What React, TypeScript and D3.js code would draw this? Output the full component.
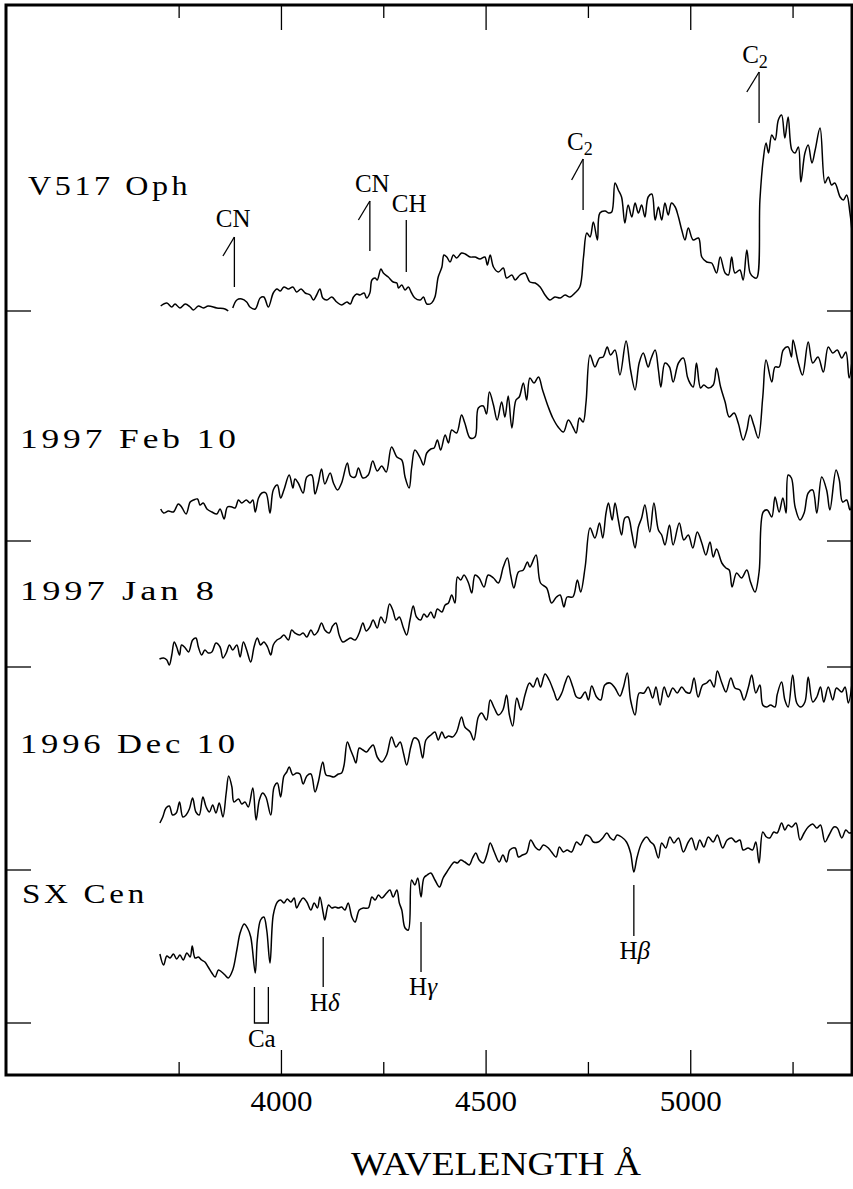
import React from "react";
import * as d3 from "d3";

type Pt = [number, number];

// wavelength (Angstrom), relative flux + offset (arbitrary units)
const v517Oph: Pt[] = [[3705,76.9],[3720,77.2],[3732,76.8],[3740,77.1],[3752,76.7],[3765,77.1],[3777,76.8],[3785,76.5],[3797,76.9],[3809,76.7],[3821,76.9],[3842,76.7],[3862,76.6],[3870,76.4],[3876,NaN],[3881,76.7],[3891,77.5],[3903,77.6],[3915,77.3],[3923,76.8],[3936,76.6],[3948,77.7],[3957,77.8],[3968,76.8],[3980,78.2],[3989,78.6],[3997,78.4],[4006,78.8],[4017,78.6],[4028,78.8],[4037,78.3],[4048,78.6],[4058,78.2],[4070,78.0],[4078,77.5],[4086,78.0],[4094,78.6],[4101,77.7],[4111,77.5],[4123,77.8],[4135,77.3],[4147,77.0],[4160,77.3],[4168,77.1],[4176,77.8],[4184,78.1],[4192,78.0],[4202,78.2],[4208,77.7],[4216,78.2],[4221,79.5],[4229,79.7],[4234,79.5],[4243,80.6],[4249,80.2],[4261,79.8],[4273,79.3],[4282,79.2],[4286,78.7],[4294,79.0],[4302,78.5],[4310,78.8],[4318,78.2],[4326,77.7],[4339,77.5],[4347,77.8],[4355,77.1],[4367,77.2],[4375,77.8],[4383,79.8],[4392,80.8],[4397,82.0],[4404,81.8],[4412,81.3],[4420,82.0],[4428,81.7],[4440,82.2],[4449,82.1],[4461,81.8],[4473,81.8],[4485,81.6],[4497,81.8],[4503,81.0],[4510,82.0],[4518,80.8],[4530,80.3],[4542,80.7],[4550,79.7],[4563,80.0],[4571,79.5],[4583,80.0],[4595,80.2],[4607,79.3],[4620,79.2],[4632,78.8],[4644,78.0],[4656,77.5],[4668,77.8],[4681,77.7],[4693,78.0],[4705,77.8],[4717,78.2],[4729,78.8],[4738,81.8],[4746,84.2],[4754,83.8],[4762,85.3],[4772,83.5],[4778,86.2],[4791,86.4],[4799,86.2],[4807,86.3],[4815,89.2],[4823,88.5],[4831,87.8],[4839,85.2],[4847,87.0],[4856,85.8],[4864,87.2],[4872,86.2],[4880,87.0],[4888,85.8],[4896,87.8],[4905,88.1],[4913,85.5],[4921,86.8],[4929,85.5],[4937,87.2],[4945,86.0],[4953,87.2],[4962,86.8],[4970,85.8],[4978,84.5],[4986,83.5],[4994,84.7],[5006,83.5],[5019,83.7],[5027,81.8],[5039,81.3],[5051,81.2],[5063,80.2],[5072,81.8],[5084,80.2],[5092,80.0],[5100,81.8],[5108,80.2],[5120,80.5],[5128,79.5],[5137,82.5],[5145,80.2],[5153,79.8],[5161,79.7],[5169,87.5],[5177,91.5],[5184,93.2],[5190,92.2],[5198,94.0],[5206,93.5],[5214,95.5],[5222,96.0],[5230,93.7],[5238,95.8],[5247,92.5],[5255,92.2],[5263,92.8],[5269,89.3],[5279,92.2],[5287,93.0],[5296,91.2],[5304,92.5],[5316,94.7],[5328,89.2],[5336,89.8],[5344,89.0],[5352,89.2],[5365,87.8],[5373,87.5],[5381,88.0],[5389,86.2],[5396,83.5]];

const feb10: Pt[] = [[3705,56.6],[3712,56.2],[3724,56.4],[3736,56.3],[3748,57.1],[3756,56.8],[3767,56.1],[3777,57.3],[3785,57.5],[3795,57.6],[3801,57.0],[3809,57.2],[3818,56.6],[3830,56.3],[3842,56.1],[3850,56.6],[3860,55.6],[3868,56.8],[3879,56.8],[3887,56.7],[3895,57.5],[3903,57.2],[3914,57.5],[3923,57.2],[3930,57.5],[3936,56.3],[3944,57.7],[3952,58.2],[3962,58.2],[3972,56.2],[3980,58.5],[3990,59.0],[3998,57.7],[4006,58.5],[4019,60.0],[4028,58.7],[4033,59.6],[4041,59.2],[4053,58.2],[4062,59.8],[4074,60.0],[4082,58.1],[4090,59.2],[4098,60.6],[4106,59.1],[4119,60.2],[4127,59.2],[4137,58.5],[4147,59.2],[4161,61.2],[4169,59.9],[4180,59.8],[4188,60.7],[4199,59.7],[4212,60.0],[4223,61.4],[4234,60.4],[4245,60.9],[4256,60.3],[4269,62.8],[4282,61.8],[4294,61.5],[4302,59.8],[4312,58.7],[4318,60.7],[4326,62.5],[4339,61.7],[4347,61.0],[4355,62.2],[4365,62.6],[4373,62.7],[4381,63.5],[4389,62.5],[4400,64.0],[4408,63.2],[4416,64.5],[4428,64.2],[4440,66.0],[4448,65.2],[4461,63.7],[4473,63.8],[4481,66.7],[4493,66.9],[4501,66.1],[4508,68.3],[4518,67.0],[4527,65.5],[4538,67.3],[4546,65.8],[4554,67.9],[4563,64.7],[4573,67.5],[4581,67.8],[4591,69.2],[4599,67.5],[4607,69.7],[4617,69.2],[4628,69.8],[4638,68.5],[4652,66.8],[4663,65.7],[4676,64.8],[4689,64.3],[4701,65.5],[4712,64.8],[4720,64.2],[4728,65.7],[4737,65.3],[4744,67.2],[4754,72.0],[4766,70.8],[4777,71.7],[4786,71.8],[4796,72.8],[4804,72.0],[4815,72.5],[4827,70.0],[4842,73.4],[4853,70.5],[4864,68.5],[4874,71.2],[4884,72.2],[4896,70.8],[4902,71.5],[4913,72.5],[4921,70.5],[4927,68.8],[4937,71.2],[4948,70.8],[4957,69.3],[4970,71.2],[4982,71.7],[4992,69.8],[4998,69.2],[5006,68.8],[5014,71.2],[5024,68.7],[5032,69.0],[5043,68.7],[5055,69.0],[5063,70.7],[5073,68.8],[5084,67.3],[5094,65.8],[5106,66.2],[5116,65.2],[5128,63.5],[5137,64.5],[5145,66.0],[5154,65.0],[5165,63.7],[5176,67.8],[5184,71.5],[5198,69.3],[5206,70.8],[5216,70.8],[5226,72.5],[5238,72.8],[5246,71.8],[5250,73.5],[5263,71.2],[5273,70.0],[5287,73.3],[5298,71.2],[5311,71.8],[5324,70.3],[5336,72.8],[5347,72.2],[5358,72.5],[5369,71.7],[5379,72.3],[5387,69.7],[5396,72.2]];

const jan8: Pt[] = [[3702,41.6],[3712,41.7],[3720,41.5],[3726,41.0],[3732,42.0],[3738,43.3],[3744,42.8],[3751,42.0],[3756,43.0],[3765,42.7],[3773,42.3],[3783,43.5],[3791,43.7],[3797,42.8],[3805,42.0],[3813,42.5],[3821,42.2],[3830,42.3],[3840,43.2],[3850,42.8],[3857,41.7],[3865,42.2],[3873,43.0],[3881,42.5],[3891,43.0],[3899,41.8],[3907,43.3],[3915,42.5],[3925,41.3],[3933,42.8],[3941,43.7],[3949,43.0],[3957,43.3],[3966,42.8],[3974,42.0],[3980,43.0],[3989,43.5],[3998,43.7],[4006,44.0],[4017,43.5],[4025,44.5],[4033,44.2],[4044,44.0],[4053,44.2],[4062,43.8],[4072,44.5],[4080,44.0],[4088,44.3],[4098,45.2],[4106,44.5],[4117,44.2],[4125,44.9],[4133,45.2],[4141,44.0],[4150,43.3],[4160,43.5],[4169,43.7],[4180,43.5],[4190,44.2],[4199,45.2],[4207,44.4],[4216,44.8],[4224,45.5],[4234,44.7],[4243,45.8],[4253,45.2],[4264,47.1],[4272,46.5],[4280,45.5],[4288,45.8],[4298,44.7],[4306,44.0],[4314,45.5],[4322,46.9],[4330,45.8],[4340,45.5],[4348,46.1],[4356,45.8],[4365,46.3],[4373,45.7],[4381,46.6],[4392,46.3],[4400,47.0],[4408,47.2],[4416,48.0],[4424,47.2],[4430,49.8],[4438,49.5],[4446,50.0],[4457,49.2],[4465,48.2],[4473,50.0],[4483,49.7],[4495,48.8],[4505,50.0],[4518,49.7],[4530,49.2],[4542,50.8],[4552,51.7],[4560,50.0],[4568,48.7],[4579,50.3],[4591,50.5],[4601,51.3],[4607,50.8],[4622,52.0],[4633,49.2],[4648,48.7],[4660,47.2],[4672,47.8],[4681,48.0],[4690,46.8],[4698,47.8],[4712,47.8],[4723,49.5],[4731,48.3],[4742,50.8],[4754,54.7],[4766,53.7],[4777,55.2],[4785,53.7],[4793,56.2],[4799,57.2],[4808,55.5],[4815,57.2],[4823,55.5],[4831,54.0],[4839,55.7],[4847,55.8],[4856,54.2],[4864,52.7],[4872,54.8],[4880,55.7],[4888,57.0],[4900,54.3],[4910,57.2],[4921,54.5],[4929,54.0],[4937,53.0],[4948,55.0],[4957,53.0],[4972,55.2],[4983,53.5],[4994,54.0],[5005,52.7],[5016,54.3],[5027,53.2],[5037,52.0],[5047,53.3],[5055,51.8],[5063,52.6],[5076,51.2],[5086,50.7],[5094,50.5],[5101,48.8],[5112,50.2],[5124,49.7],[5137,50.5],[5146,49.3],[5157,48.3],[5167,50.3],[5177,56.3],[5187,56.5],[5198,55.8],[5206,57.8],[5216,56.3],[5225,57.7],[5233,56.2],[5238,60.0],[5246,59.7],[5255,56.8],[5267,55.5],[5277,56.2],[5287,58.2],[5298,58.5],[5308,56.2],[5320,59.8],[5332,58.5],[5340,56.5],[5355,60.5],[5363,59.5],[5371,57.3],[5381,57.5],[5389,56.5],[5396,57.5]];

const dec10: Pt[] = [[3703,25.2],[3710,25.8],[3718,26.7],[3726,26.9],[3734,26.0],[3743,26.2],[3751,27.3],[3759,25.8],[3767,26.0],[3775,26.6],[3783,27.7],[3791,26.3],[3799,26.0],[3808,27.8],[3816,26.8],[3824,26.3],[3832,27.0],[3840,26.2],[3848,27.2],[3857,25.8],[3865,28.2],[3871,29.9],[3879,28.8],[3884,27.3],[3895,27.6],[3903,27.1],[3911,27.3],[3919,26.8],[3930,28.7],[3938,25.5],[3946,27.5],[3954,28.2],[3962,27.8],[3974,26.0],[3982,28.8],[3990,29.2],[3998,27.8],[4006,29.9],[4013,30.3],[4019,30.8],[4028,30.0],[4037,30.2],[4045,30.1],[4053,29.1],[4062,29.9],[4072,30.1],[4082,28.3],[4090,29.3],[4101,31.3],[4109,30.0],[4119,29.9],[4128,29.8],[4139,30.1],[4147,30.2],[4153,31.0],[4161,33.3],[4169,32.5],[4176,31.8],[4182,31.2],[4190,32.7],[4199,32.5],[4208,32.3],[4216,32.7],[4224,33.0],[4234,31.8],[4245,31.3],[4257,32.0],[4269,33.8],[4280,32.8],[4290,33.3],[4298,32.2],[4306,31.0],[4316,32.8],[4324,33.7],[4334,33.5],[4345,31.7],[4353,33.5],[4365,34.0],[4375,34.3],[4383,33.5],[4392,34.3],[4400,33.7],[4408,33.9],[4418,33.8],[4428,34.3],[4440,35.8],[4448,34.8],[4461,34.3],[4470,33.5],[4481,35.8],[4489,36.2],[4501,35.5],[4510,37.5],[4520,36.7],[4530,36.0],[4541,36.5],[4550,38.0],[4557,36.0],[4565,34.9],[4575,37.7],[4585,36.5],[4595,38.0],[4606,39.2],[4615,38.8],[4625,39.7],[4633,38.8],[4644,40.1],[4654,39.5],[4666,38.3],[4674,37.5],[4685,38.2],[4693,39.2],[4701,39.9],[4712,38.8],[4721,37.8],[4731,37.7],[4742,38.3],[4750,37.5],[4758,38.9],[4770,37.8],[4780,37.5],[4790,39.0],[4803,39.2],[4815,38.7],[4827,37.9],[4835,38.7],[4845,40.2],[4853,37.5],[4864,36.0],[4874,38.2],[4886,38.2],[4896,38.8],[4907,37.7],[4915,38.8],[4925,37.0],[4935,38.8],[4945,37.8],[4956,38.7],[4967,38.2],[4978,38.8],[4988,38.3],[4998,38.2],[5008,39.7],[5018,37.8],[5029,39.0],[5039,39.2],[5047,39.5],[5057,38.8],[5065,40.4],[5076,39.2],[5086,38.3],[5098,39.7],[5108,38.7],[5120,38.5],[5130,37.5],[5141,38.8],[5149,40.0],[5159,38.2],[5169,39.0],[5176,37.0],[5185,36.8],[5195,37.0],[5206,36.8],[5211,38.0],[5222,39.3],[5230,37.5],[5238,36.8],[5249,40.0],[5259,37.2],[5269,36.8],[5279,37.3],[5287,39.8],[5298,37.3],[5308,37.8],[5317,38.8],[5325,37.3],[5336,38.8],[5347,37.5],[5356,38.7],[5369,38.3],[5377,38.8],[5385,37.2],[5396,39.8]];

const sxCen: Pt[] = [[3703,12.1],[3712,11.0],[3720,11.9],[3728,11.7],[3736,12.1],[3744,11.6],[3752,12.0],[3760,11.5],[3769,12.2],[3777,11.8],[3782,12.9],[3789,11.7],[3797,11.8],[3805,11.5],[3813,11.3],[3821,10.8],[3830,10.2],[3838,9.8],[3846,10.5],[3854,10.3],[3862,10.0],[3870,9.7],[3881,10.5],[3891,12.5],[3899,14.2],[3909,15.1],[3917,14.7],[3925,13.8],[3936,10.2],[3941,13.5],[3949,15.5],[3957,15.8],[3964,14.5],[3972,11.2],[3980,16.0],[3990,17.3],[3998,17.5],[4006,17.2],[4014,17.6],[4023,17.3],[4031,17.7],[4037,16.7],[4045,17.3],[4053,17.7],[4062,17.3],[4072,16.5],[4080,17.2],[4088,16.7],[4094,17.8],[4102,16.2],[4106,15.5],[4115,17.0],[4123,16.7],[4131,16.8],[4139,16.7],[4147,16.8],[4155,16.5],[4163,17.2],[4172,15.8],[4180,15.3],[4190,16.5],[4200,16.7],[4212,16.7],[4221,17.8],[4229,17.5],[4237,18.0],[4245,17.7],[4257,18.2],[4265,18.5],[4273,17.8],[4282,18.5],[4288,17.2],[4294,16.5],[4302,14.7],[4310,14.5],[4318,19.5],[4326,19.0],[4333,19.7],[4341,17.8],[4348,19.7],[4356,20.0],[4365,20.2],[4375,19.5],[4386,18.8],[4395,19.7],[4404,20.3],[4412,20.8],[4422,21.3],[4430,21.2],[4438,21.5],[4448,21.3],[4459,21.0],[4467,21.7],[4475,22.2],[4483,21.5],[4493,21.2],[4503,22.2],[4510,23.2],[4520,22.3],[4532,21.3],[4541,22.0],[4550,21.3],[4558,22.5],[4571,22.7],[4579,21.8],[4589,22.0],[4599,22.2],[4609,23.5],[4620,22.8],[4630,22.5],[4640,23.0],[4652,22.7],[4660,22.3],[4671,21.8],[4679,22.8],[4689,22.3],[4698,22.5],[4709,22.3],[4721,23.3],[4731,23.0],[4744,24.0],[4754,23.8],[4762,23.3],[4774,23.3],[4785,23.7],[4795,24.2],[4804,23.7],[4812,23.5],[4820,24.0],[4831,23.8],[4843,23.3],[4853,22.2],[4861,20.3],[4869,21.8],[4880,23.2],[4892,23.8],[4902,23.3],[4910,23.0],[4921,21.7],[4929,23.2],[4939,22.7],[4949,23.8],[4959,23.2],[4970,23.7],[4982,22.3],[4994,23.3],[5002,23.7],[5013,22.5],[5022,23.5],[5032,22.8],[5043,23.8],[5055,23.3],[5065,24.0],[5078,22.7],[5089,23.5],[5100,23.7],[5110,23.3],[5120,23.5],[5128,22.5],[5140,22.7],[5151,22.5],[5159,23.3],[5167,21.2],[5176,24.3],[5185,23.8],[5193,23.7],[5203,24.3],[5211,24.2],[5222,25.2],[5230,24.5],[5238,25.0],[5247,24.8],[5257,25.2],[5267,23.5],[5277,24.2],[5287,24.8],[5298,25.1],[5308,24.7],[5317,25.0],[5328,23.3],[5338,24.0],[5350,24.8],[5358,24.7],[5369,23.7],[5379,24.5],[5387,24.2],[5396,24.3]];

const spectra = [v517Oph, feb10, jan8, dec10, sxCen];

const spectrumNames = ["V517 Oph", "1997 Feb 10", "1997 Jan 8", "1996 Dec 10", "SX Cen"];
const nameWave = [3381, 3361, 3361, 3361, 3366];
const nameFlux = [88.0, 62.7, 47.5, 32.2, 17.2];
const nameWidth = [163, 220, 198, 219, 126];

const xTicksMajor = [4000, 4500, 5000];
const xTicksMinor = [3750, 4250, 4750, 5250];
const yTicks = [76.4, 53.4, 40.8, 20.5, 5.2];

// line identifications: wave, top, bottom of the marker, optional slanted foot, label
type Mark = { label: string; sub?: string; greek?: string; wave: number; top: number; bottom: number; footWave?: number; footFlux?: number; labelWave: number; labelFlux: number };
const lineMarks: Mark[] = [
  { label: "CN", wave: 3885, top: 83.8, bottom: 78.8, footWave: 3857, footFlux: 81.9, labelWave: 3882, labelFlux: 84.8 },
  { label: "CN", wave: 4216, top: 87.4, bottom: 82.4, footWave: 4188, footFlux: 85.5, labelWave: 4222, labelFlux: 88.3 },
  { label: "CH", wave: 4305, top: 85.5, bottom: 80.3, labelWave: 4312, labelFlux: 86.3 },
  { label: "C", sub: "2", wave: 4737, top: 91.6, bottom: 86.5, footWave: 4709, footFlux: 89.5, labelWave: 4729, labelFlux: 92.5 },
  { label: "C", sub: "2", wave: 5167, top: 100.3, bottom: 95.2, footWave: 5137, footFlux: 98.3, labelWave: 5157, labelFlux: 101.2 },
  { label: "H", greek: "δ", wave: 4102, top: 13.8, bottom: 8.8, labelWave: 4106, labelFlux: 6.4 },
  { label: "H", greek: "γ", wave: 4341, top: 15.3, bottom: 10.3, labelWave: 4346, labelFlux: 8.0 },
  { label: "H", greek: "β", wave: 4861, top: 19.0, bottom: 13.9, labelWave: 4863, labelFlux: 11.6 },
];
const caWaves = [3934, 3968];
const caTop = 8.8;
const caBottom = 5.2;
const caLabel = { wave: 3952, flux: 2.8 };

const W = 853;
const H = 1189;
const frameTop = 5;
const frameBottom = 1075;
const frameLeft = 6;
const frameRight = 852;
const serif = "'Liberation Serif', 'DejaVu Serif', serif";

export default function App() {
  const x = d3.scaleLinear().domain([3327, 5394]).range([frameLeft, frameRight]);
  const y = d3.scaleLinear().domain([0, 107]).range([1075, 5]);

  const line = d3
    .line<Pt>()
    .defined((d) => !isNaN(d[1]))
    .curve(d3.curveCatmullRom.alpha(0.5))
    .x((d) => x(d[0]))
    .y((d) => y(d[1]));

  const tickLen = 25;
  const minorLen = 13;

  return (
    <svg width={W} height={H} style={{ position: "absolute", left: 0, top: 0, background: "#fff" }}>
      <defs>
        <clipPath id="plot-clip">
          <rect x={frameLeft} y={frameTop} width={frameRight - frameLeft} height={frameBottom - frameTop} />
        </clipPath>
      </defs>
      <rect x={0} y={0} width={W} height={H} fill="#fff" />

      <g clipPath="url(#plot-clip)">
        {spectra.map((s, i) => (
          <path key={i} d={line(s) || ""} fill="none" stroke="#000" strokeWidth={1.5} strokeLinejoin="round" />
        ))}
      </g>

      {/* frame */}
      <rect x={frameLeft} y={frameTop} width={frameRight - frameLeft} height={frameBottom - frameTop} fill="none" stroke="#000" strokeWidth={3} />

      {/* x ticks top and bottom */}
      {xTicksMajor.map((t) => (
        <g key={"M" + t}>
          <line x1={x(t)} x2={x(t)} y1={frameTop} y2={frameTop + tickLen} stroke="#000" strokeWidth={1.3} />
          <line x1={x(t)} x2={x(t)} y1={frameBottom} y2={frameBottom - tickLen} stroke="#000" strokeWidth={1.3} />
          <text x={x(t)} y={frameBottom + 36} textAnchor="middle" fontFamily={serif} fontSize={29} textLength={62} lengthAdjust="spacingAndGlyphs">
            {t}
          </text>
        </g>
      ))}
      {xTicksMinor.map((t) => (
        <g key={"m" + t}>
          <line x1={x(t)} x2={x(t)} y1={frameTop} y2={frameTop + minorLen} stroke="#000" strokeWidth={1.3} />
          <line x1={x(t)} x2={x(t)} y1={frameBottom} y2={frameBottom - minorLen} stroke="#000" strokeWidth={1.3} />
        </g>
      ))}

      {/* y ticks left and right */}
      {yTicks.map((t) => (
        <g key={"y" + t}>
          <line x1={frameLeft} x2={frameLeft + tickLen} y1={y(t)} y2={y(t)} stroke="#000" strokeWidth={1.3} />
          <line x1={frameRight} x2={frameRight - tickLen} y1={y(t)} y2={y(t)} stroke="#000" strokeWidth={1.3} />
        </g>
      ))}

      <text x={(x(4000) + x(5000)) / 2 + 10} y={H - 14} textAnchor="middle" fontFamily={serif} fontSize={34} textLength={290} lengthAdjust="spacingAndGlyphs">
        WAVELENGTH Å
      </text>

      {/* spectrum names */}
      {spectrumNames.map((n, i) => (
        <text key={n} x={x(nameWave[i])} y={y(nameFlux[i])} fontFamily={serif} fontSize={27} letterSpacing={3} textLength={nameWidth[i]} lengthAdjust="spacingAndGlyphs">
          {n}
        </text>
      ))}

      {/* line identifications */}
      {lineMarks.map((m, i) => (
        <g key={"mk" + i} stroke="#000" strokeWidth={1.3}>
          <line x1={x(m.wave)} x2={x(m.wave)} y1={y(m.top)} y2={y(m.bottom)} />
          {m.footWave !== undefined && (
            <line x1={x(m.footWave)} x2={x(m.wave)} y1={y(m.footFlux!)} y2={y(m.top)} />
          )}
          <text x={x(m.labelWave)} y={y(m.labelFlux)} textAnchor="middle" fontFamily={serif} fontSize={25} stroke="none" fill="#000">
            {m.label}
            {m.sub && (
              <tspan fontSize={18} dy={5}>
                {m.sub}
              </tspan>
            )}
            {m.greek && <tspan fontStyle="italic">{m.greek}</tspan>}
          </text>
        </g>
      ))}

      {/* Ca H & K bracket */}
      <path
        d={`M${x(caWaves[0])},${y(caTop)}V${y(caBottom)}H${x(caWaves[1])}V${y(caTop)}`}
        fill="none"
        stroke="#000"
        strokeWidth={1.3}
      />
      <text x={x(caLabel.wave)} y={y(caLabel.flux)} textAnchor="middle" fontFamily={serif} fontSize={25}>
        Ca
      </text>
    </svg>
  );
}
